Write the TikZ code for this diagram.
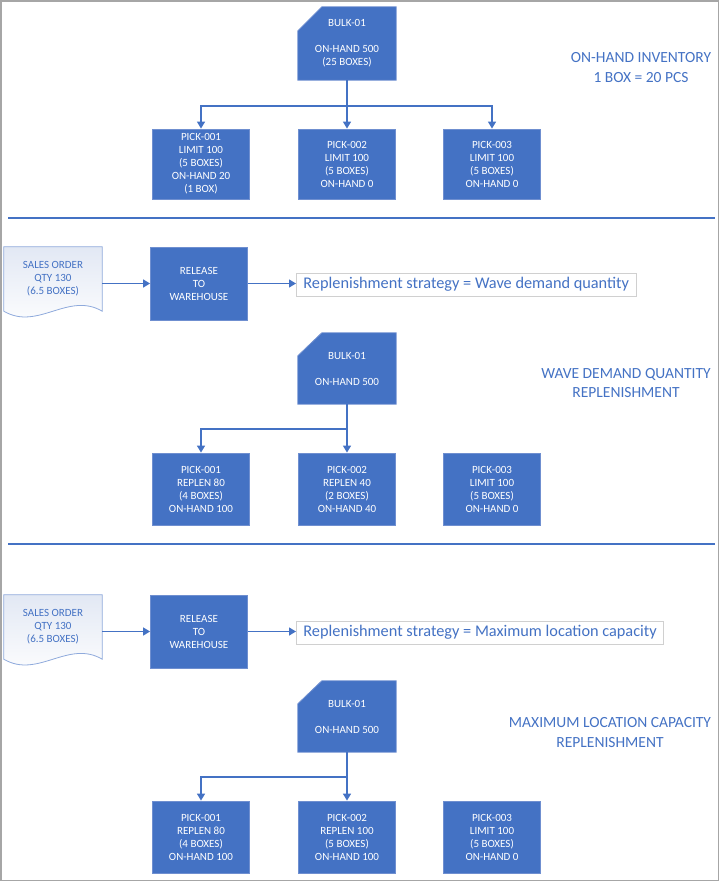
\documentclass[tikz,border=0pt]{standalone}
\usepackage{fontspec}
\setmainfont{Carlito}
\usetikzlibrary{arrows.meta,calc}
\pgfdeclarelayer{background}
\pgfsetlayers{background,main}
\definecolor{oblue}{HTML}{4472C4}
\definecolor{oedge}{HTML}{6F8FD0}
\definecolor{docedge}{HTML}{8FAADC}
\definecolor{doctop}{HTML}{E2E8F4}
\definecolor{calledge}{HTML}{D0D0D0}
\definecolor{framegray}{HTML}{A6A6A6}
\begin{document}
\begin{tikzpicture}[x=1pt,y=-1pt,
  boxtext/.style={font=\fontsize{11}{13}\selectfont, text=white, align=center},
  pickbox/.style={boxtext, rectangle, fill=oblue, draw=oedge, line width=0.8pt, minimum width=97pt, minimum height=72pt, inner sep=0pt},
  bulktext/.style={boxtext, rectangle, minimum width=98pt, minimum height=71pt, inner sep=0pt},
  bulkshape/.style={fill=oblue, draw=oedge, line width=0.8pt},
  doctext/.style={font=\fontsize{11}{13}\selectfont, text=oblue, align=center, minimum width=98pt, minimum height=64pt, inner sep=0pt},
  docshape/.style={draw=docedge, line width=0.8pt, top color=doctop, bottom color=white},
  calltext/.style={font=\fontsize{16.3}{19}\selectfont, text=oblue, draw=calledge, line width=0.8pt, fill=white, minimum height=23pt, inner xsep=7pt, inner ysep=0pt, anchor=west},
  headtext/.style={font=\fontsize{15.5}{19.5}\selectfont, text=oblue, align=center},
  conn/.style={draw=oblue, line width=1.4pt},
  arr/.style={conn, -{Triangle[length=7pt,width=8pt]}},
  sepline/.style={draw=oblue, line width=1.4pt},
]
\useasboundingbox (0,0) rectangle (720,882);
\draw[framegray, line width=1.5pt] (1,1) rectangle (718.5,880.5);

% ---------------- Section 1 ----------------
\node[bulktext, minimum height=73pt] (bulk1) at (347,43.5) {BULK-01\\[13pt]ON-HAND 500\\(25 BOXES)};
\begin{pgfonlayer}{background}
\path[bulkshape] ($(bulk1.north west)+(0,24)$) -- ($(bulk1.north west)+(24,0)$) -- (bulk1.north east) -- (bulk1.south east) -- (bulk1.south west) -- cycle;
\end{pgfonlayer}
\node[pickbox, minimum height=70pt] (p11) at (201,164) {PICK-001\\LIMIT 100\\(5 BOXES)\\ON-HAND 20\\(1 BOX)};
\node[pickbox, minimum height=70pt] (p12) at (347,164) {PICK-002\\LIMIT 100\\(5 BOXES)\\ON-HAND 0};
\node[pickbox, minimum height=70pt] (p13) at (492,164) {PICK-003\\LIMIT 100\\(5 BOXES)\\ON-HAND 0};
\coordinate (j1) at (347,106);
\draw[arr] (bulk1.south) -- (p12.north);
\draw[arr] (j1) -| (p11.north);
\draw[arr] (j1) -| (p13.north);
\node[headtext] (h1) at (641,67.5) {ON-HAND INVENTORY\\1 BOX = 20 PCS};
\coordinate (s1a) at (8,218);
\coordinate (s1b) at (715,218);
\draw[sepline] (s1a) -- (s1b);

% ---------------- Section 2 ----------------
\node[doctext] (so2) at (53,279) {SALES ORDER\\QTY 130\\(6.5 BOXES)};
\begin{pgfonlayer}{background}
\path[docshape] (so2.north west) -- (so2.north east) -- (so2.south east)
  .. controls ($(so2.south east)+(-34,-20)$) and ($(so2.south west)+(34,20)$) .. (so2.south west) -- cycle;
\end{pgfonlayer}
\node[pickbox, minimum height=73pt] (rel2) at (199,283.5) {RELEASE\\TO\\WAREHOUSE};
\node[calltext] (call2) at (296,284.5) {Replenishment strategy = Wave demand quantity};
\draw[arr] (so2.east |- rel2.west) -- (rel2.west);
\draw[arr] (rel2.east) -- (rel2.east -| call2.west);
\node[bulktext] (bulk2) at (347,368.5) {BULK-01\\[13pt]ON-HAND 500};
\begin{pgfonlayer}{background}
\path[bulkshape] ($(bulk2.north west)+(0,23)$) -- ($(bulk2.north west)+(24,0)$) -- (bulk2.north east) -- (bulk2.south east) -- (bulk2.south west) -- cycle;
\end{pgfonlayer}
\node[pickbox] (p21) at (201,489) {PICK-001\\REPLEN 80\\(4 BOXES)\\ON-HAND 100};
\node[pickbox] (p22) at (347,489) {PICK-002\\REPLEN 40\\(2 BOXES)\\ON-HAND 40};
\node[pickbox] (p23) at (492,489) {PICK-003\\LIMIT 100\\(5 BOXES)\\ON-HAND 0};
\coordinate (j2) at (347,429);
\draw[arr] (bulk2.south) -- (p22.north);
\draw[arr] (j2) -| (p21.north);
\node[headtext] (h2) at (626,383) {WAVE DEMAND QUANTITY\\REPLENISHMENT};
\coordinate (s2a) at (8,544);
\coordinate (s2b) at (715,544);
\draw[sepline] (s2a) -- (s2b);

% ---------------- Section 3 ----------------
\node[doctext] (so3) at (53,627) {SALES ORDER\\QTY 130\\(6.5 BOXES)};
\begin{pgfonlayer}{background}
\path[docshape] (so3.north west) -- (so3.north east) -- (so3.south east)
  .. controls ($(so3.south east)+(-34,-20)$) and ($(so3.south west)+(34,20)$) .. (so3.south west) -- cycle;
\end{pgfonlayer}
\node[pickbox, minimum height=73pt] (rel3) at (199,631.5) {RELEASE\\TO\\WAREHOUSE};
\node[calltext] (call3) at (296,632.5) {Replenishment strategy = Maximum location capacity};
\draw[arr] (so3.east |- rel3.west) -- (rel3.west);
\draw[arr] (rel3.east) -- (rel3.east -| call3.west);
\node[bulktext] (bulk3) at (347,716.5) {BULK-01\\[13pt]ON-HAND 500};
\begin{pgfonlayer}{background}
\path[bulkshape] ($(bulk3.north west)+(0,23)$) -- ($(bulk3.north west)+(24,0)$) -- (bulk3.north east) -- (bulk3.south east) -- (bulk3.south west) -- cycle;
\end{pgfonlayer}
\node[pickbox] (p31) at (201,837) {PICK-001\\REPLEN 80\\(4 BOXES)\\ON-HAND 100};
\node[pickbox] (p32) at (347,837) {PICK-002\\REPLEN 100\\(5 BOXES)\\ON-HAND 100};
\node[pickbox] (p33) at (492,837) {PICK-003\\LIMIT 100\\(5 BOXES)\\ON-HAND 0};
\coordinate (j3) at (347,777);
\draw[arr] (bulk3.south) -- (p32.north);
\draw[arr] (j3) -| (p31.north);
\node[headtext] (h3) at (610,732.5) {MAXIMUM LOCATION CAPACITY\\REPLENISHMENT};
\end{tikzpicture}
\end{document}
